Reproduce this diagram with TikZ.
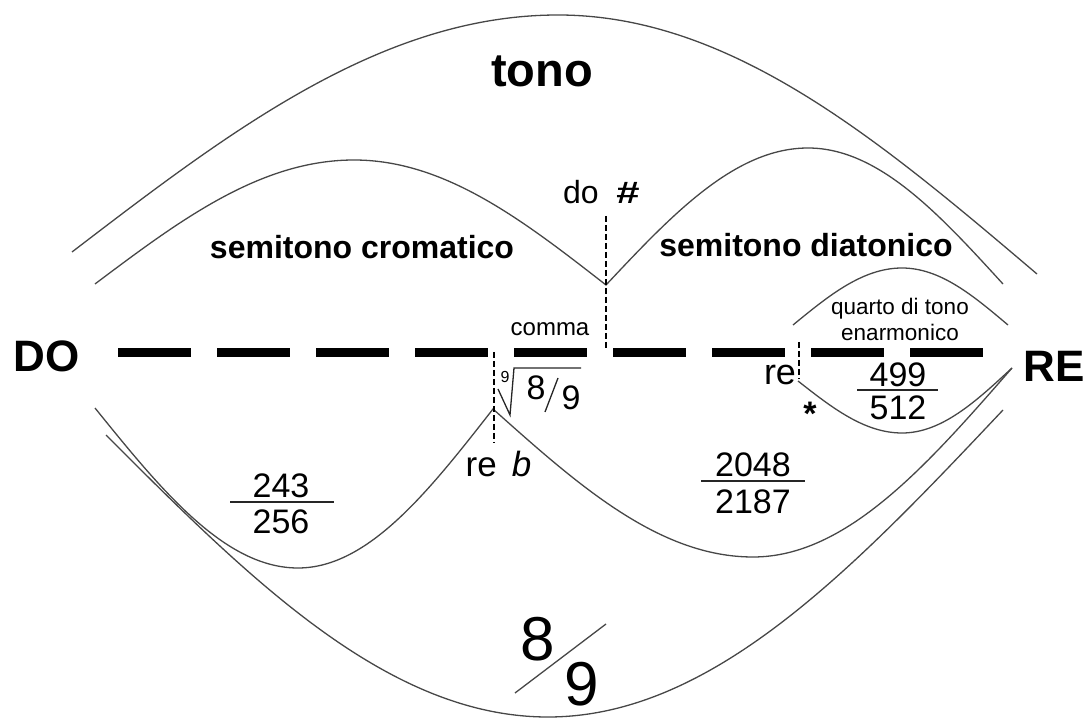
\documentclass[tikz,border=0pt]{standalone}
\usepackage{fontspec}
\setmainfont{Liberation Sans}
\newcommand{\fs}[1]{\fontsize{#1}{#1}\selectfont}
\begin{document}
\begin{tikzpicture}[x=1pt,y=-1pt,
  curve/.style={line width=1.3pt, black!72},
  thick dash/.style={line width=9pt, dash pattern=on 73pt off 26pt},
  vdash/.style={line width=1.1pt, dash pattern=on 6pt off 3pt},
  fracbar/.style={line width=1.3pt, black!85},
  lbl/.style={inner sep=0pt, anchor=base},
  big/.style={lbl, font=\fs{44}\bfseries},
  head/.style={lbl, font=\fs{32}\bfseries},
  num/.style={lbl, font=\fs{34}},
  small/.style={lbl, font=\fs{22.5}}]
\useasboundingbox (0,0) rectangle (1088,719);
% key points
\coordinate (tL) at (72,252);  \coordinate (tT) at (558,15);  \coordinate (tR) at (1037,274);
\coordinate (sL) at (95,284);  \coordinate (sC) at (354,160); \coordinate (sV) at (606,285);
\coordinate (sD) at (808,148); \coordinate (sR) at (1003,284);
\coordinate (qL) at (793,325); \coordinate (qT) at (902,268); \coordinate (qR) at (1008,325);
\coordinate (lL) at (95,408);  \coordinate (lA) at (298,568); \coordinate (lV) at (493,409);
\coordinate (lB) at (753,557); \coordinate (lR) at (1012,368);
\coordinate (qlL) at (798,381); \coordinate (qB) at (902,433);
\coordinate (bL) at (106,435); \coordinate (bB) at (548,717); \coordinate (bR) at (1003,410);
\coordinate (dS) at (118,352.5); \coordinate (dE) at (983,352.5);
% arcs
\draw[curve] (tL) sin (tT) cos (tR);
\draw[curve] (sL) sin (sC) cos (sV) sin (sD) cos (sR);
\draw[curve] (qL) sin (qT) cos (qR);
\draw[curve] (lL) sin (lA) cos (lV) sin (lB) cos (lR);
\draw[curve] (qlL) sin (qB) cos (lR);
\draw[curve] (bL) sin (bB) cos (bR);
% main dashed line
\draw[thick dash] (dS) -- (dE);
% vertical dashed markers
\coordinate (v1a) at (606,216); \coordinate (v1b) at (606,348);
\coordinate (v2a) at (494,352); \coordinate (v2b) at (494,443);
\coordinate (v3a) at (799,342); \coordinate (v3b) at (799,379);
\draw[vdash] (v1a) -- (v1b);
\draw[vdash] (v2a) -- (v2b);
\draw[vdash] (v3a) -- (v3b);
% labels
\node[big] (DO) at (46.5,372) {DO};
\node[big] (RE) at (1054,382) {RE};
\node[lbl, font=\fs{47}\bfseries] (tono) at (542,87) {tono};
\node[head] (scrom) at (362,259) {semitono cromatico};
\node[head] (sdiat) at (806,257) {semitono diatonico};
\node[lbl, font=\fs{32}] (dolab) at (581,204) {do};
\node[lbl, font=\fs{31}\bfseries, xscale=1.35] (sharp) at (628,204) {\#};
\node[small] (q1) at (900,315) {quarto di tono};
\node[small] (q2) at (900,341) {enarmonico};
\node[lbl, font=\fs{24}] (comma) at (550,336) {comma};
% fractions
\node[num] (n1) at (281,497) {243};
\node[num] (d1) at (281,533) {256};
\coordinate (b1a) at (230,502); \coordinate (b1b) at (334,502);
\draw[fracbar] (b1a) -- (b1b);
\node[num] (n2) at (753,477) {2048};
\node[num] (d2) at (753,513) {2187};
\coordinate (b2a) at (701,481); \coordinate (b2b) at (805,481);
\draw[fracbar] (b2a) -- (b2b);
\node[num] (n3) at (898,387) {499};
\node[num] (d3) at (898,420) {512};
\coordinate (b3a) at (857,390); \coordinate (b3b) at (938,390);
\draw[fracbar] (b3a) -- (b3b);
% ninth root of 8/9
\node[lbl, font=\fs{16}] (ri) at (505,383) {9};
\coordinate (r1) at (498,389); \coordinate (r2) at (510,415);
\coordinate (r3) at (514,368); \coordinate (r4) at (581,368);
\draw[fracbar, line join=miter] (r1) -- (r2) -- (r3) -- (r4);
\node[num] (r8) at (536,400) {8};
\coordinate (rs1) at (545,412); \coordinate (rs2) at (558,378);
\draw[fracbar] (rs1) -- (rs2);
\node[num] (r9) at (571,410) {9};
% re b, re*
\node[lbl, font=\fs{35}] (reb) at (498.5,477) {re\hspace{15pt}\textit{b}};
\node[lbl, font=\fs{36}] (res) at (780,385) {re};
\node[lbl, font=\fs{34}\bfseries] (star) at (810,426) {*};
% big 8/9
\node[lbl, font=\fs{62}] (b8) at (538,660) {8};
\node[lbl, font=\fs{62}] (b9) at (582,705) {9};
\coordinate (bs1) at (515,693); \coordinate (bs2) at (606,624);
\draw[curve] (bs1) -- (bs2);
\end{tikzpicture}
\end{document}
